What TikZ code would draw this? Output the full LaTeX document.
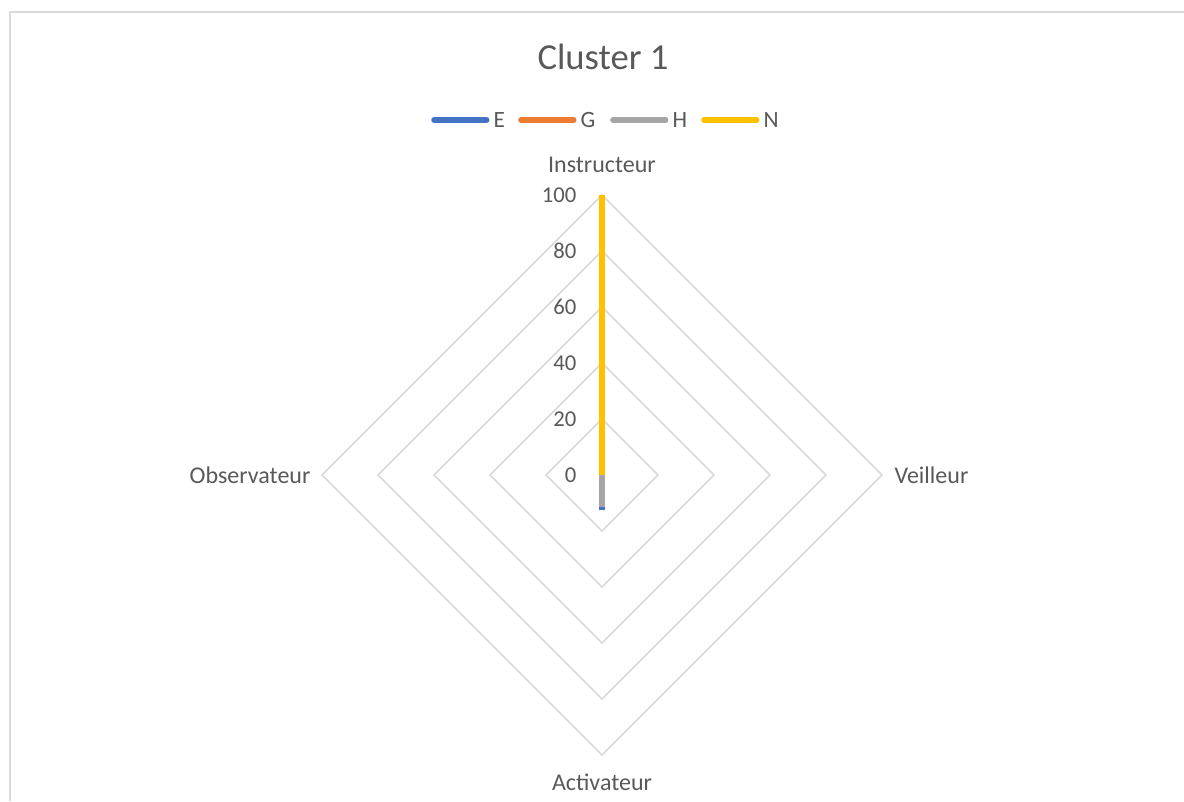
\documentclass[tikz,border=0pt]{standalone}
\usepackage{fontspec}
\setmainfont{Carlito}
\usetikzlibrary{positioning}
\definecolor{gridgray}{HTML}{D9D9D9}
\definecolor{textgray}{HTML}{595959}
\definecolor{serieE}{HTML}{4472C4}
\definecolor{serieG}{HTML}{ED7D31}
\definecolor{serieH}{HTML}{A5A5A5}
\definecolor{serieN}{HTML}{FFC000}
\tikzset{
    x=0.75pt, y=-0.75pt, % one unit is one pixel of the screenshot, y going down
    every node/.style={text=textgray, inner sep=1pt}, % grey text everywhere
    frame/.style={draw=gridgray, line width=0.8pt}, % the chart area border
    ring/.style={draw=gridgray, line width=1.1pt}, % the diamond grid
    series/.style={line width=4.5pt}, % the data lines
    key/.style={line width=4.2pt, line cap=round, shorten >=4pt}, % the legend samples
    axislabel/.style={font=\fontsize{18}{20}\selectfont},
    ticklabel/.style={font=\fontsize{17}{19}\selectfont, anchor=east},
    legendlabel/.style={font=\fontsize{17.5}{19}\selectfont, anchor=west},
    }

\begin{document}
\begin{tikzpicture}
    \useasboundingbox (0,0) rectangle (1184,801);
    \draw[frame] (1184,12) -| (10,801);

    \node[font=\fontsize{27.5}{30}\selectfont] (title) at (603,57) {Cluster 1};

    % legend
    \foreach \s/\x in {E/434, G/521, H/613, N/704}{
        \coordinate (k\s) at (\x,120);
        \node[legendlabel] (l\s) at (\x+58,120) {\s};
        \draw[key, serie\s] (k\s) -- (l\s.west);
    }

    % grid
    \coordinate (c) at (602,475);
    \begin{scope}[shift={(c)}]
        \foreach \r in {1,...,5}
            \draw[ring] (0,-56*\r) -- (56*\r,0) -- (0,56*\r) -- (-56*\r,0) -- cycle;
        \foreach \v in {0,1,...,5}{
            \pgfmathtruncatemacro{\lab}{20*\v}
            \node[ticklabel] (t\v) at (-24,-56*\v) {\lab};
        }
    \end{scope}

    \node[axislabel] (instr) at (602,165) {Instructeur};
    \node[axislabel, anchor=west] (veil) at (893,475) {Veilleur};
    \node[axislabel, anchor=east] (obs) at (312,475) {Observateur};
    \node[axislabel] (activ) at (602,782) {Activateur};

    % data
    \coordinate (e) at (602,510);
    \coordinate (h) at (602,507);
    \coordinate (n) at (602,195);
    \draw[series, serieE] (c) -- (e);
    \draw[series, serieH] (c) -- (h);
    \draw[series, serieN] (c) -- (n);
\end{tikzpicture}
\end{document}
